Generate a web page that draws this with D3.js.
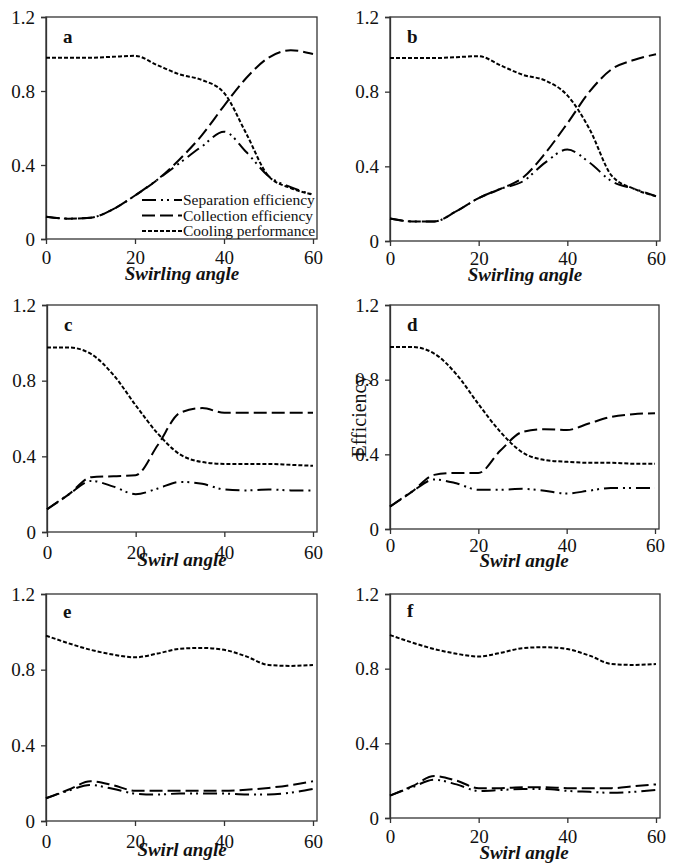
<!DOCTYPE html>
<html><head><meta charset="utf-8">
<script src="https://cdn.jsdelivr.net/npm/d3@7"></script>
<style>body{margin:0;background:#fff}svg{display:block}svg text{font-family:"Liberation Serif","Times New Roman",serif}</style>
</head><body>
<svg id="chart" width="685" height="867"></svg>
<script>
// ---- DATA ----
const angles = [0,5,10,15,20,25,30,35,40,45,50,55,60];
const xTicks = [0,20,40,60];
const yTicks = [0,0.4,0.8,1.2];
const seriesNames = ["Separation efficiency","Collection efficiency","Cooling performance"];
const panelLabels = ["a","b","c","d","e","f"];
const xTitles = ["Swirling angle","Swirling angle","Swirl angle","Swirl angle","Swirl angle","Swirl angle"];

const sepA  = [0.12,0.11,0.115,0.16,0.235,0.32,0.41,0.50,0.58,0.47,0.34,0.28,0.24];
const colA  = [0.12,0.11,0.115,0.16,0.235,0.32,0.43,0.56,0.72,0.87,0.98,1.02,1.0];
const coolA = [0.98,0.98,0.98,0.985,0.99,0.94,0.89,0.86,0.79,0.57,0.34,0.275,0.24];

const sepB  = [0.12,0.105,0.105,0.16,0.23,0.28,0.32,0.42,0.49,0.42,0.32,0.28,0.24];
const colB  = [0.12,0.105,0.105,0.16,0.23,0.28,0.34,0.47,0.63,0.80,0.92,0.97,1.0];
const coolB = [0.98,0.98,0.98,0.985,0.99,0.94,0.89,0.86,0.78,0.60,0.35,0.28,0.24];

const sepC  = [0.12,0.20,0.27,0.24,0.20,0.23,0.265,0.255,0.225,0.22,0.225,0.22,0.22];
const colC  = [0.12,0.20,0.29,0.295,0.30,0.46,0.63,0.655,0.63,0.63,0.63,0.63,0.63];
const coolC = [0.975,0.975,0.94,0.83,0.67,0.52,0.41,0.37,0.36,0.36,0.36,0.355,0.35];

const sepD  = [0.12,0.20,0.265,0.245,0.21,0.21,0.215,0.205,0.19,0.205,0.22,0.22,0.22];
const colD  = [0.12,0.20,0.29,0.30,0.30,0.42,0.52,0.535,0.53,0.565,0.60,0.615,0.62];
const coolD = [0.975,0.975,0.94,0.83,0.67,0.52,0.41,0.37,0.36,0.355,0.355,0.35,0.35];

const sepE  = [0.12,0.16,0.19,0.17,0.145,0.14,0.145,0.145,0.145,0.14,0.14,0.15,0.17];
const colE  = [0.12,0.165,0.21,0.19,0.16,0.16,0.16,0.16,0.16,0.165,0.175,0.19,0.21];
const coolE = [0.98,0.94,0.905,0.88,0.865,0.885,0.91,0.915,0.905,0.87,0.825,0.82,0.825];

const sepF  = [0.12,0.165,0.205,0.18,0.145,0.15,0.155,0.155,0.145,0.14,0.135,0.14,0.15];
const colF  = [0.12,0.17,0.225,0.20,0.16,0.16,0.165,0.165,0.16,0.16,0.16,0.17,0.18];
const coolF = [0.98,0.94,0.905,0.88,0.865,0.885,0.91,0.915,0.905,0.87,0.825,0.82,0.825];

const panelData = [[sepA,colA,coolA],[sepB,colB,coolB],[sepC,colC,coolC],[sepD,colD,coolD],[sepE,colE,coolE],[sepF,colF,coolF]];

// ---- LAYOUT ----
const layout = [
  {l:46, r:313, t:17,  b:239, tickY:264, titleY:280, titleX:182, labY:43},
  {l:390,r:656, t:17,  b:241, tickY:265, titleY:281, titleX:525, labY:43},
  {l:47, r:313, t:305, b:532, tickY:559, titleY:566, titleX:182, labY:331},
  {l:390,r:655, t:305, b:529, tickY:552, titleY:567, titleX:524, labY:331},
  {l:46, r:313, t:594, b:821, tickY:848, titleY:856, titleX:182, labY:618},
  {l:390,r:656, t:594, b:818, tickY:843, titleY:859, titleX:524, labY:617}
];
const dashes = ["14,5,2,4,2,5","13,5","4,2"];

const svg = d3.select("#chart");

layout.forEach((L, i) => {
  const x = d3.scaleLinear().domain([0,60]).range([L.l, L.r]);
  const y = d3.scaleLinear().domain([0,1.2]).range([L.b, L.t]);
  const g = svg.append("g");

  g.append("rect").attr("x", L.l).attr("y", L.t).attr("width", L.r + 4 - L.l).attr("height", L.b - L.t)
    .attr("fill","none").attr("stroke","#333").attr("stroke-width",1.3);

  const ya = g.append("g").attr("transform", `translate(${L.l},0)`)
    .call(d3.axisLeft(y).tickValues(yTicks).tickSize(5).tickPadding(6).tickFormat(d => d === 0 ? "0" : d3.format(".1f")(d)));
  ya.attr("font-family", null);
  ya.select(".domain").attr("stroke","#333").attr("stroke-width",1.3);
  ya.selectAll("line").attr("stroke","#333").attr("stroke-width",1.3);
  ya.selectAll("text").style("font-size","19px").attr("fill","#111");

  const xa = g.append("g").attr("transform", `translate(0,${L.b})`)
    .call(d3.axisBottom(x).tickValues(xTicks).tickSize(5).tickFormat(d3.format("d")));
  xa.attr("font-family", null);
  xa.select(".domain").remove();
  xa.selectAll("line").attr("stroke","#333").attr("stroke-width",1.3);
  xa.selectAll("text").style("font-size","19px").attr("fill","#111")
    .attr("dy",null).attr("y", L.tickY - L.b);

  const line = d3.line().x((d,j) => x(angles[j])).y(d => y(d)).curve(d3.curveMonotoneX);
  panelData[i].forEach((vals, s) => {
    g.append("path").attr("d", line(vals)).attr("fill","none").attr("stroke","#000")
      .attr("stroke-width",2).attr("stroke-dasharray", dashes[s]);
  });

  g.append("text").attr("x", L.l + 17).attr("y", L.labY).text(panelLabels[i])
    .style("font-weight","bold").style("font-size","19px").attr("fill","#111");

  g.append("text").attr("x", L.titleX).attr("y", L.titleY).attr("text-anchor","middle").text(xTitles[i])
    .style("font-weight","bold").style("font-style","italic").style("font-size","19px").attr("fill","#111");
});

svg.append("text").attr("transform","translate(366,416) rotate(-90)").attr("text-anchor","middle")
  .text("Efficiency").style("font-size","20px").attr("fill","#111");

const leg = svg.append("g");
seriesNames.forEach((name, s) => {
  const yy = 200 + s * 15.5;
  leg.append("line").attr("x1",142).attr("x2",182).attr("y1",yy).attr("y2",yy)
    .attr("stroke","#000").attr("stroke-width",2).attr("stroke-dasharray",dashes[s]);
  leg.append("text").attr("x",183).attr("y",yy + 5).text(name)
    .style("font-size","15.5px").attr("fill","#111");
});
</script>
</body></html>
